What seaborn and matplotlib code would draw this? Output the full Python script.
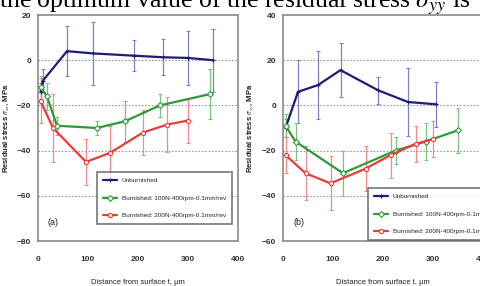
import numpy as np
import pandas as pd
import seaborn as sns
import matplotlib
matplotlib.use("Agg")
import matplotlib.pyplot as plt

# ---- data (stress in MPa, depth in um) ----
# panel (a): sigma_xx
a_unb_t = [5, 10, 58, 110, 192, 250, 300, 350]
a_unb_s = [-14, -9, 4, 3, 2, 1.3, 1, 0]
a_unb_e = [4, 5, 11, 14, 7, 8, 12, 14]

a_b100_t = [5, 18, 38, 118, 174, 244, 344]
a_b100_s = [-12, -16, -29, -30, -27, -20, -15]
a_b100_e = [5, 6, 4, 3, 9, 5, 11]

a_b200_t = [5, 30, 96, 144, 210, 258, 300]
a_b200_s = [-18, -30, -45, -41, -32, -28.5, -26.7]
a_b200_e = [10, 15, 10, 12, 10, 12, 10]

# panel (b): sigma_yy
b_unb_t = [5, 30, 70, 115, 190, 250, 305]
b_unb_s = [-10, 6, 9, 15.6, 6.7, 1.5, 0.5]
b_unb_e = [4, 14, 15, 12, 6, 15, 10]

b_b100_t = [5, 25, 120, 225, 285, 350]
b_b100_s = [-9, -16, -30, -20, -16, -11]
b_b100_e = [5, 8, 10, 6, 8, 10]

b_b200_t = [5, 45, 95, 165, 215, 265, 300]
b_b200_s = [-22, -30, -34.5, -28, -22, -17, -15]
b_b200_e = [8, 12, 12, 10, 10, 8, 8]

labels = ["Unburnished",
          "Burnished: 100N-400rpm-0.1mm/rev",
          "Burnished: 200N-400rpm-0.1mm/rev"]
colors = ["#1c1c7a", "#2f9a35", "#ee3a3a"]
err_colors = ["#8080c8", "#7cc47c", "#f28a8a"]
markers = ["+", "D", "o"]

sns.set_theme(style="white")
plt.rcParams["font.family"] = ["Liberation Sans", "DejaVu Sans"]
plt.rcParams["mathtext.fontset"] = "stix"

fig = plt.figure(figsize=(4.8, 2.86), dpi=100)
ax_a = fig.add_axes([38 / 480, 1 - 241 / 286, 200 / 480, 226 / 286])
ax_b = fig.add_axes([283 / 480, 1 - 241 / 286, 200 / 480, 226 / 286])

panels = [
    (ax_a, [(a_unb_t, a_unb_s, a_unb_e), (a_b100_t, a_b100_s, a_b100_e),
            (a_b200_t, a_b200_s, a_b200_e)],
     (-80, 20), r"Residual stress $\sigma_{xx}$, MPa", "(a)", (97, 172)),
    (ax_b, [(b_unb_t, b_unb_s, b_unb_e), (b_b100_t, b_b100_s, b_b100_e),
            (b_b200_t, b_b200_s, b_b200_e)],
     (-60, 40), r"Residual stress $\sigma_{yy}$, MPa", "(b)", (368, 188)),
]

for ax, series, ylim, ylab, tag, leg_px in panels:
    for i, (t, s, e) in enumerate(series):
        ax.errorbar(t, s, yerr=e, fmt="none", ecolor=err_colors[i],
                    elinewidth=0.9, capsize=1.5, capthick=0.8, zorder=2)
        df = pd.DataFrame({"t": t, "s": s})
        sns.lineplot(data=df, x="t", y="s", ax=ax, color=colors[i],
                     linewidth=1.6, marker=markers[i], markersize=3,
                     markerfacecolor="white" if i else colors[i],
                     markeredgecolor=colors[i], markeredgewidth=0.8,
                     label=labels[i], zorder=3)
    ax.set_xlim(0, 400)
    ax.set_ylim(*ylim)
    ax.set_xticks([0, 100, 200, 300, 400])
    ax.set_yticks(np.arange(ylim[0], ylim[1] + 1, 20))
    for yv in np.arange(ylim[0] + 20, ylim[1], 20):
        ax.axhline(yv, color="#9a9a9a", linestyle=(0, (1.5, 1.5)),
                   linewidth=0.8, zorder=1)
    ax.tick_params(axis="both", labelsize=6, length=2, width=0.6,
                   direction="out", colors="#333333")
    ax.tick_params(axis="x", pad=9)
    ax.tick_params(axis="y", pad=3)
    for lab in ax.get_xticklabels() + ax.get_yticklabels():
        lab.set_fontweight("bold")
    for sp in ax.spines.values():
        sp.set_color("#8a8a8a")
        sp.set_linewidth(1.2)
    ax.set_xlabel("Distance from surface t, \u00b5m", fontsize=5.5,
                  labelpad=11, color="#222222")
    ax.set_ylabel(ylab, fontsize=5.5, fontweight="bold", labelpad=4,
                  color="#222222")
    ax.text(0.05, 0.07, tag, transform=ax.transAxes, fontsize=6.5,
            color="#222222")
    lx = (leg_px[0] - ax.get_position().x0 * 480) / 200
    leg = ax.legend(loc="upper left", bbox_to_anchor=(lx, 1 - (leg_px[1] - 15) / 226),
                    fontsize=4.6, frameon=True, fancybox=False,
                    handlelength=2.2, borderpad=0.9, labelspacing=1.9,
                    borderaxespad=0, edgecolor="#555555")
    leg.get_frame().set_linewidth(1.2)

fig.text(-0.002, 1 - 7.5 / 286,
         r"the optimum value of the residual stress $\sigma_{yy}$ is",
         fontsize=18.5, family="Liberation Serif", color="black",
         ha="left", va="baseline")

fig.savefig("out.png", dpi=100)
